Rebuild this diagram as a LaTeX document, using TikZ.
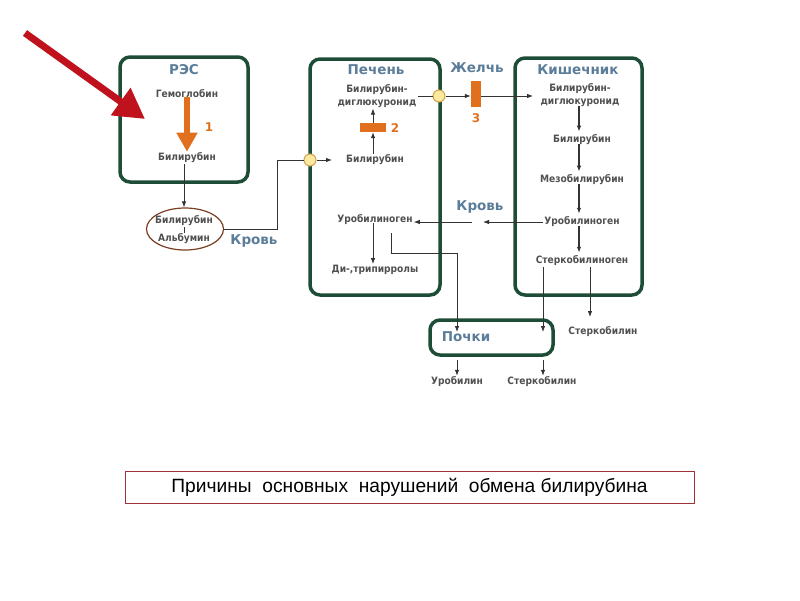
\documentclass[tikz,border=0pt]{standalone}
\usepackage{fontspec}
\setmainfont{DejaVu Sans}
\newfontfamily\condfont{DejaVu Sans Condensed}
\newfontfamily\capfont{Liberation Sans}
\usetikzlibrary{arrows.meta,shapes.geometric}

\definecolor{boxgreen}{HTML}{1D4D36}
\definecolor{headblue}{HTML}{5B7D99}
\definecolor{txtgray}{HTML}{505050}
\definecolor{flowor}{HTML}{E0701E}
\definecolor{redarr}{HTML}{C0121C}
\definecolor{dotfill}{HTML}{FCE9A0}
\definecolor{dotline}{HTML}{D2A24C}
\definecolor{capred}{HTML}{A0303A}
\definecolor{ovbrown}{HTML}{7A3E22}

\tikzset{
  organ/.style={draw=boxgreen, line width=3.5pt, rounded corners=10pt, inner sep=0pt},
  head/.style={text=headblue, font=\bfseries\fontsize{13.5}{14}\selectfont, inner sep=1pt},
  subst/.style={text=txtgray, font=\condfont\bfseries\fontsize{10.1}{12.5}\selectfont, align=center, inner sep=1pt},
  num/.style={text=flowor, font=\bfseries\fontsize{12}{13}\selectfont, inner sep=1pt},
  arr/.style={draw=black!80, line width=0.8pt, -{Latex[length=6pt,width=4.5pt]}},
  thinline/.style={draw=black!80, line width=0.8pt},
  dot/.style={circle, draw=dotline, fill=dotfill, line width=1pt, minimum size=12pt, inner sep=0pt},
  block/.style={fill=flowor, inner sep=0pt}
}

\begin{document}
\begin{tikzpicture}[x=1pt, y=-1pt]
\useasboundingbox (0,0) rectangle (800,600);

% organs
\node[organ, minimum width=128pt, minimum height=125pt] (res) at (184,119.5) {};
\node[organ, minimum width=130pt, minimum height=236pt] (liver) at (375,177) {};
\node[organ, minimum width=127pt, minimum height=237pt] (gut) at (578.5,176.5) {};
\node[organ, minimum width=123pt, minimum height=35pt] (kidney) at (491.5,337.5) {};

\node[head] (resT) at (184,70) {РЭС};
\node[head] (liverT) at (376,70) {Печень};
\node[head] (gutT) at (578,70) {Кишечник};
\node[head] (kidneyT) at (466,337) {Почки};
\node[head] (bile) at (477,68) {Желчь};
\node[head] (blood1) at (254,241) {Кровь};
\node[head] (blood2) at (480,207) {Кровь};

% RES
\node[subst] (hem) at (187,94) {Гемоглобин};
\node[subst] (bil1) at (187,158) {Билирубин};
\node[num] (n1) at (209,127) {1};
\draw[draw=flowor, line width=6.5pt, -{Triangle[length=19pt,width=20pt]}] (hem.south) ++(0,-2) -- (bil1.north);

% albumin complex
\node[ellipse, draw=ovbrown, line width=1.2pt, minimum width=77pt, minimum height=42pt, inner sep=0pt] (alb) at (185,229) {};
\node[subst] (albB) at (184,221) {Билирубин};
\node[subst] (albA) at (184,239) {Альбумин};
\draw[thinline] (albB.south) -- (albA.north);
\draw[arr] (bil1.south -| 184,0) -- (alb.north -| 184,0);

% liver
\node[dot] (c1) at (310,160) {};
\node[subst] (bil2) at (375,160) {Билирубин};
\node[block, minimum width=26pt, minimum height=9pt] (bar2) at (373,127.5) {};
\node[num] (n2) at (395,128) {2};
\node[subst] (bdg1) at (377,96) {Билирубин-\\диглюкуронид};
\node[dot] (c2) at (439,96) {};
\node[subst] (uro1) at (375,220) {Уробилиноген};
\node[subst] (dtp) at (375,270) {Ди-,трипирролы};

\draw[thinline] (alb.east) -- (277,229) |- (c1);
\draw[arr] (c1) -- ++(22,0);
\draw[arr] (bar2.south |- bil2.north) -- (bar2.south);
\draw[arr] (bar2.north) -- (bar2.north |- bdg1.south);
\draw[thinline] (418,96) -- (c2);

% bile
\node[block, minimum width=10pt, minimum height=26pt] (bar3) at (476,94) {};
\node[num] (n3) at (476,118) {3};
\draw[arr] (c2) -- (bar3.west |- c2);
\draw[arr] (bar3.east |- c2) -- (533,96);

% gut
\node[subst] (bdg2) at (580,95) {Билирубин-\\диглюкуронид};
\node[subst] (bil3) at (582,140) {Билирубин};
\node[subst] (mezo) at (582,180) {Мезобилирубин};
\node[subst] (uro2) at (582,222) {Уробилиноген};
\node[subst] (sterk) at (582,261) {Стеркобилиноген};
\foreach \a/\b in {bdg2/bil3, bil3/mezo, mezo/uro2, uro2/sterk}
  \draw[arr, line width=1.1pt] (\a.south -| 579,0) ++(0,-2) -- ([yshift=2pt]\b.north -| 579,0);

% blood back to liver
\coordinate (gapR) at (483,222);
\coordinate (gapL) at (472,222);
\draw[arr] (uro2.west |- gapR) -- (gapR);
\draw[arr] (gapL) -- (uro1.east |- gapL);
\draw[arr] (uro1.south -| 373,0) ++(0,-3) -- (dtp.north -| 373,0);

% kidney
\node[subst] (urobilin) at (457,382) {Уробилин};
\node[subst] (sterkA) at (542,382) {Стеркобилин};
\node[subst] (sterkB) at (603,332) {Стеркобилин};
\draw[arr] (391,233) -- (391,253) -| (457,332);
\draw[arr] (sterk.south -| 543,0) -- (543,332);
\draw[arr] (sterk.south -| 590,0) -- (590,317);
\draw[arr] (457,360) -- (urobilin.north);
\draw[arr] (543,360) -- (sterkA.north -| 543,0);

% red pointer
\coordinate (redtail) at (25,33);
\coordinate (redtip) at (145,119);
\draw[draw=redarr, line width=7pt, -{Triangle[length=30pt,width=32pt]}] (redtail) -- (redtip);

% caption
\node[draw=capred, line width=0.8pt, minimum width=569pt, minimum height=32pt, inner sep=0pt,
      font=\capfont\fontsize{19.2}{20}\selectfont] (caption) at (409.5,487)
  {Причины\ \ основных\ \ нарушений\ \ обмена билирубина};
\end{tikzpicture}
\end{document}
